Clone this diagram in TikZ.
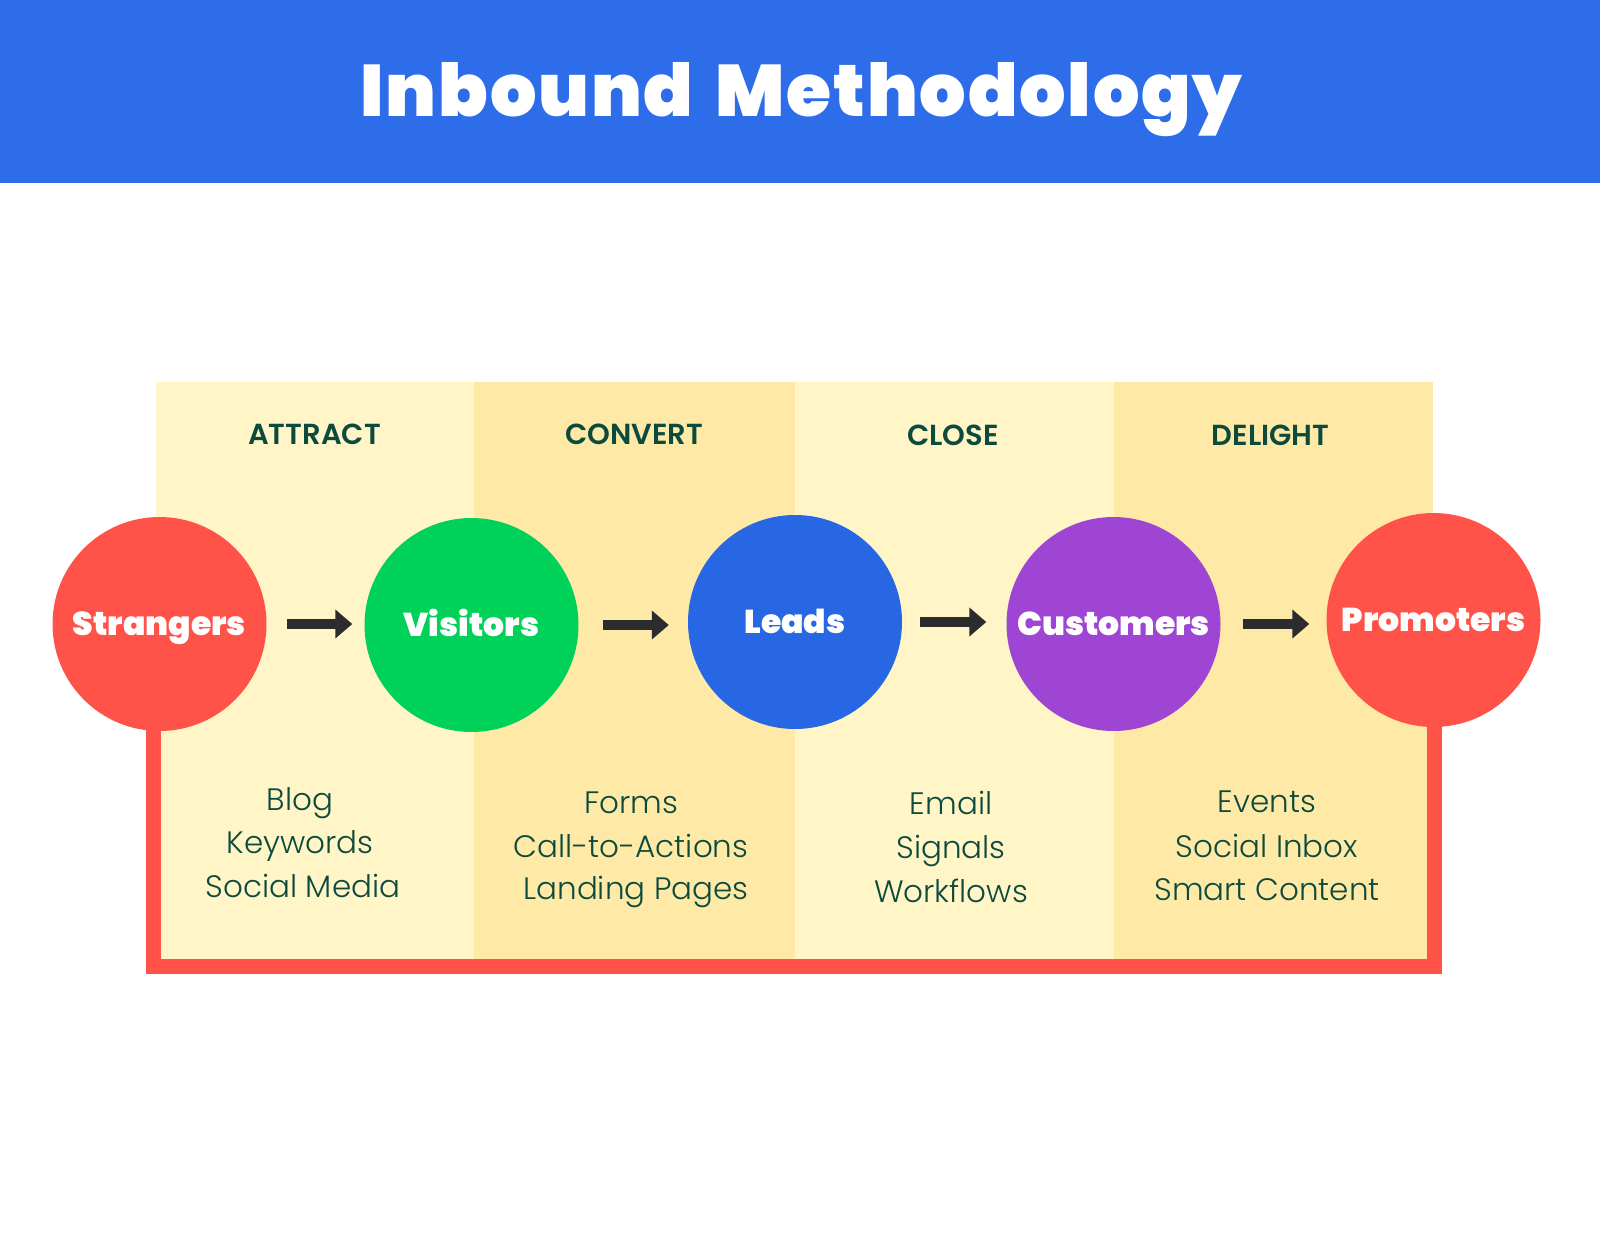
\documentclass[tikz,border=0pt]{standalone}
\usepackage{fontspec}
\usetikzlibrary{arrows.meta}
\IfFontExistsTF{Poppins Black}{\newfontfamily\heavyfont{Poppins Black}\newfontfamily\titlefont{Poppins Black}[LetterSpace=2.5]}{\newfontfamily\heavybase{Poppins}\def\heavyfont{\heavybase\bfseries}\def\titlefont{\heavybase\bfseries}}
\IfFontExistsTF{Poppins SemiBold}{\newfontfamily\semifont{Poppins SemiBold}}{\newfontfamily\semibase{Poppins}\def\semifont{\semibase\bfseries}}
\IfFontExistsTF{Poppins Light}{\newfontfamily\lightfont{Poppins Light}}{\newfontfamily\lightfont{Poppins}}
\definecolor{barblue}{HTML}{2E6DE9}
\definecolor{cred}{HTML}{FF534A}
\definecolor{cgreen}{HTML}{00D159}
\definecolor{cblue}{HTML}{2867E3}
\definecolor{cpurple}{HTML}{9E45D3}
\definecolor{bandA}{HTML}{FFF5C7}
\definecolor{bandB}{HTML}{FFE9A6}
\definecolor{arrowc}{HTML}{2C2C2E}
\definecolor{ink}{HTML}{0D4A3E}
\pgfdeclarelayer{bg}
\pgfsetlayers{bg,main}
\tikzset{
  stage/.style={circle, minimum size=214pt, inner sep=0pt, text=white,
    font=\heavyfont\fontsize{33}{33}\selectfont, text height=23pt, text depth=0pt},
  titletext/.style={anchor=base, inner sep=0pt, text=white, font=\titlefont\fontsize{73}{73}\selectfont},
  header/.style={anchor=base, inner sep=0pt, text=ink, font=\semifont\fontsize{29}{29}\selectfont},
  item/.style={anchor=base, inner sep=0pt, text=ink, font=\lightfont\fontsize{31}{31}\selectfont},
  flow/.style={draw=arrowc, line width=10pt, -{Triangle[length=17pt,width=28pt]}},
  loopline/.style={draw=cred, line width=15pt, line join=miter},
}
\begin{document}
\begin{tikzpicture}[x=1pt,y=-1pt]
\useasboundingbox (0,0) rectangle (1600,1236);

% stages
\node[stage, fill=cred]    (s) at (159.5,624) {Strangers};
\node[stage, fill=cgreen]  (v) at (471.5,625) {Visitors};
\node[stage, fill=cblue]   (l) at (795,622) {Leads};
\node[stage, fill=cpurple] (c) at (1113.5,624) {Customers};
\node[stage, fill=cred]    (p) at (1433.5,620) {Promoters};

% flow arrows
\draw[flow, shorten <=20pt, shorten >=12pt] (s.east) -- (s.east -| v.west);
\draw[flow, shorten <=24pt, shorten >=19pt] (v.east) -- (v.east -| l.west);
\draw[flow, shorten <=18pt, shorten >=20pt] (l.east) -- (l.east -| c.west);
\draw[flow, shorten <=22pt, shorten >=17pt] (c.east) -- (c.east -| p.west);

% headers
\node[header] (hA) at (314.5,444) {ATTRACT};
\node[header] (hB) at (634,444) {CONVERT};
\node[header] (hC) at (953,445) {CLOSE};
\node[header] (hD) at (1270.5,445) {DELIGHT};

% items
\node[item] (a1) at (300,810) {Blog};
\node[item] (a2) at (300,853) {Keywords};
\node[item] (a3) at (303,897) {Social Media};
\node[item] (b1) at (631,813) {Forms};
\node[item] (b2) at (631,857) {Call-to-Actions};
\node[item] (b3) at (636,899) {Landing Pages};
\node[item] (c1) at (951,814) {Email};
\node[item] (c2) at (951,858) {Signals};
\node[item] (c3) at (951,902) {Workflows};
\node[item] (d1) at (1267,812) {Events};
\node[item] (d2) at (1267,857) {Social Inbox};
\node[item] (d3) at (1267,900) {Smart Content};

\coordinate (cornerL) at (153.5,966);
\coordinate (cornerR) at (1434.5,966);

\begin{pgfonlayer}{bg}
  \fill[white] (0,0) rectangle (1600,1236);
  \fill[barblue] (0,0) rectangle (1600,183);
  \fill[bandA] (156,382) rectangle (474,966);
  \fill[bandB] (474,382) rectangle (795,966);
  \fill[bandA] (795,382) rectangle (1114,966);
  \fill[bandB] (1114,382) rectangle (1433,966);
  \draw[loopline] (s.center -| cornerL) -- (cornerL) -- (cornerR) -- (p.center -| cornerR);
\end{pgfonlayer}
\node[titletext] (title) at (801.5,117) {Inbound\hspace{8pt} Methodology};
\end{tikzpicture}
\end{document}
